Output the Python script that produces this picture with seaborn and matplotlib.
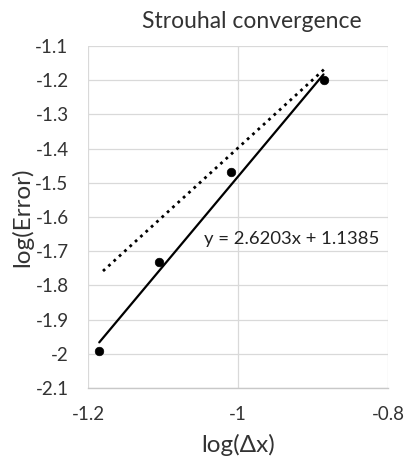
import seaborn as sns
import matplotlib.pyplot as plt
import numpy as np

# data
log_dx = [-1.185, -1.106, -1.009, -0.886]
log_err = [-1.993, -1.732, -1.468, -1.200]

# reference (dotted) line, slope ~2
ref_x = [-1.180, -0.883]
ref_y = [-1.758, -1.164]

# Excel-style linear trendline
fit_slope = 2.6203
fit_intercept = 1.1385

sns.set_theme(style="whitegrid")
plt.rcParams['font.family'] = ['Lato', 'DejaVu Sans']

fig = plt.figure(figsize=(4.08, 4.58), dpi=100)
ax = fig.add_axes([0.2157, 0.1528, 0.7353, 0.7468])

fit_x = np.array([min(log_dx), max(log_dx)])
fit_y = fit_slope * fit_x + fit_intercept

sns.lineplot(x=ref_x, y=ref_y, ax=ax, color="black", linewidth=2.0,
             linestyle=(0, (1, 1.6)), dash_capstyle="butt")
sns.lineplot(x=fit_x, y=fit_y, ax=ax, color="black", linewidth=1.6)
sns.scatterplot(x=log_dx, y=log_err, ax=ax, color="black", s=38,
                edgecolor="black", zorder=5)

ax.set_xlim(-1.2, -0.8)
ax.set_ylim(-2.1, -1.1)
ax.set_xticks([-1.2, -1.0, -0.8])
ax.set_xticklabels(["-1.2", "-1", "-0.8"])
yt = np.round(np.arange(-2.1, -1.05, 0.1), 1)
ax.set_yticks(yt)
ax.set_yticklabels([("%g" % v) for v in yt])

ax.grid(True, color="#d9d9d9", linewidth=0.9)
for side in ["top", "right", "left"]:
    ax.spines[side].set_visible(False)
ax.spines["bottom"].set_color("#c8c8c8")
ax.spines["bottom"].set_linewidth(1.0)
ax.tick_params(axis="both", length=0, labelsize=13.5, colors="#333333")
ax.tick_params(axis="y", pad=14)
ax.tick_params(axis="x", pad=13)

ax.set_xlabel("log(Δx)", fontsize=17.5, color="#333333", va="center")
ax.set_ylabel("log(Error)", fontsize=17.5, color="#333333", va="center")
ax.xaxis.set_label_coords(0.5, (388 - 445) / 342)
ax.yaxis.set_label_coords((22 - 88) / 300, 0.5)

ax.text(-0.929, -1.664, "y = 2.6203x + 1.1385", fontsize=13.3, color="#222222",
        ha="center", va="center")

fig.text(252 / 408, 1 - 21 / 458, "Strouhal convergence", fontsize=16.5,
         color="#333333", ha="center", va="center")

fig.savefig("out.png", dpi=100)
